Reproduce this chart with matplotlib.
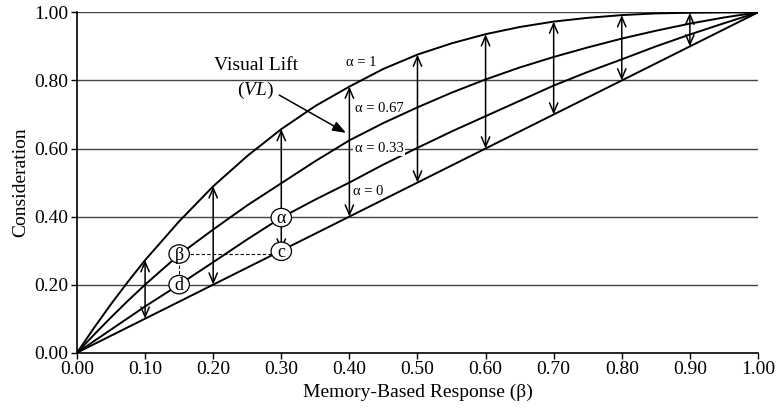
import matplotlib.pyplot as plt
from matplotlib.patches import Ellipse

plt.rcParams['font.family'] = ['Liberation Serif', 'DejaVu Serif']
plt.rcParams['mathtext.fontset'] = 'custom'
plt.rcParams['mathtext.rm'] = 'Liberation Serif'
plt.rcParams['mathtext.it'] = 'Liberation Serif:italic'

# data
beta = [0.00, 0.025, 0.05, 0.075, 0.10, 0.15, 0.20, 0.25, 0.30, 0.35, 0.40, 0.45, 0.50,
        0.55, 0.60, 0.65, 0.70, 0.75, 0.80, 0.85, 0.90, 0.95, 1.00]
cons_a1 = [0.000, 0.073, 0.143, 0.209, 0.272, 0.386, 0.489, 0.578, 0.657, 0.725, 0.782, 0.834, 0.876,
           0.909, 0.936, 0.957, 0.973, 0.984, 0.992, 0.997, 0.999, 1.000, 1.000]
cons_a067 = [0.000, 0.053, 0.104, 0.153, 0.200, 0.288, 0.362, 0.433, 0.498, 0.563, 0.624, 0.675, 0.721,
             0.764, 0.803, 0.838, 0.869, 0.897, 0.923, 0.946, 0.967, 0.985, 1.000]
cons_a033 = [0.000, 0.034, 0.068, 0.102, 0.136, 0.200, 0.266, 0.333, 0.397, 0.450, 0.500, 0.553, 0.602,
             0.650, 0.695, 0.740, 0.785, 0.825, 0.862, 0.900, 0.935, 0.968, 1.000]
cons_a0 = [0.000, 0.025, 0.05, 0.075, 0.10, 0.15, 0.20, 0.25, 0.30, 0.35, 0.40, 0.45, 0.50,
           0.55, 0.60, 0.65, 0.70, 0.75, 0.80, 0.85, 0.90, 0.95, 1.00]
curve_labels = ['\u03b1 = 1', '\u03b1 = 0.67', '\u03b1 = 0.33', '\u03b1 = 0']

# lift arrows drawn at every 0.10 of beta
arrow_beta = [0.1, 0.2, 0.3, 0.4, 0.5, 0.6, 0.7, 0.8, 0.9]

# circled points
mark_text = ['\u03b2', 'd', '\u03b1', 'c']
mark_x = [0.15, 0.15, 0.30, 0.30]
mark_y = [0.29, 0.20, 0.397, 0.298]

xticks = [0.0, 0.1, 0.2, 0.3, 0.4, 0.5, 0.6, 0.7, 0.8, 0.9, 1.0]
yticks = [0.0, 0.2, 0.4, 0.6, 0.8, 1.0]

fig = plt.figure(figsize=(7.77, 4.13), dpi=100)
ax = fig.add_axes([0.0991, 0.146, 0.8764, 0.824])

for y in yticks[1:]:
    ax.plot([0, 1], [y, y], color='#444444', lw=1.0, zorder=1)

for cons in (cons_a1, cons_a067, cons_a033, cons_a0):
    ax.plot(beta, cons, color='black', lw=1.4, zorder=3, solid_joinstyle='round')

for xb in arrow_beta:
    i = beta.index(xb)
    ax.annotate('', xy=(xb, cons_a1[i]), xytext=(xb, cons_a0[i]),
                arrowprops=dict(arrowstyle='<->,head_length=0.7,head_width=0.3',
                                lw=1.1, color='black', shrinkA=0, shrinkB=0,
                                mutation_scale=10),
                zorder=2)

# dashed guides beta -> d and beta -> c
ax.plot([mark_x[0], mark_x[1]], [mark_y[0], mark_y[1]], ls=(0, (3, 2)), color='black', lw=0.8, zorder=2)
ax.plot([mark_x[0], mark_x[3]], [mark_y[0], 0.29], ls=(0, (3, 2)), color='black', lw=0.8, zorder=2)

for t, mx, my in zip(mark_text, mark_x, mark_y):
    ax.add_patch(Ellipse((mx, my), 0.030, 0.054, facecolor='white', edgecolor='black', lw=0.9, zorder=5))
    ax.text(mx, my - 0.003, t, ha='center', va='center', fontsize=13, zorder=6)

# curve labels
lab_pos = [(0.395, 0.852), (0.408, 0.718), (0.408, 0.600), (0.405, 0.474)]
for t, (lx, ly) in zip(curve_labels, lab_pos):
    ax.text(lx, ly, t, ha='left', va='center', fontsize=10.5, zorder=6,
            bbox=dict(facecolor='white', edgecolor='none', pad=1.0) if t.endswith('0.33') else None)

ax.text(0.263, 0.845, 'Visual Lift', ha='center', va='center', fontsize=14, zorder=6,
        bbox=dict(facecolor='white', edgecolor='none', pad=3))
ax.text(0.262, 0.772, '($\\mathit{VL}$)', ha='center', va='center', fontsize=14, zorder=6)
ax.annotate('', xy=(0.395, 0.646), xytext=(0.297, 0.757),
            arrowprops=dict(arrowstyle='-|>,head_length=0.8,head_width=0.3', lw=1.1,
                            color='black', shrinkA=0, shrinkB=0, mutation_scale=10), zorder=6)

ax.set_xlim(0, 1)
ax.set_ylim(0, 1)
ax.set_xticks(xticks)
ax.set_yticks(yticks)
ax.set_xticklabels([f'{v:.2f}' for v in xticks], fontsize=14)
ax.set_yticklabels([f'{v:.2f}' for v in yticks], fontsize=14)
ax.tick_params(direction='out', length=4, width=1.0, pad=2)
for s in ('top', 'right'):
    ax.spines[s].set_visible(False)
for s in ('left', 'bottom'):
    ax.spines[s].set_linewidth(1.2)
ax.set_xlabel('Memory-Based Response (\u03b2)', fontsize=14, labelpad=4)
ax.set_ylabel('Consideration', fontsize=14, labelpad=4)

fig.savefig('out.png', dpi=100)
